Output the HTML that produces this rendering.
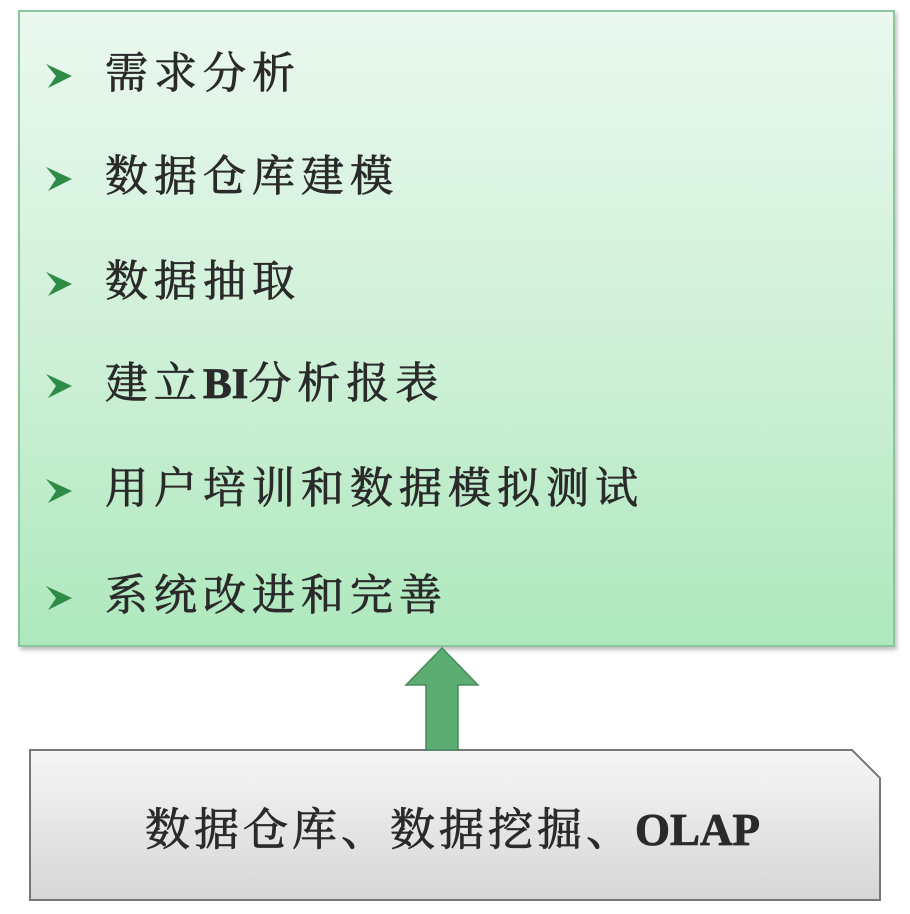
<!DOCTYPE html>
<html><head><meta charset="utf-8"><style>
html,body{margin:0;padding:0;background:#fff;width:910px;height:914px;overflow:hidden;position:relative}
.box{position:absolute;left:18px;top:10px;width:877px;height:637px;border:2px solid #8cc49c;box-sizing:border-box;
background:linear-gradient(#eaf8ef,#cdf0d6 55%,#aee8bd);box-shadow:2px 3px 4px rgba(0,0,0,.25)}
.item{position:absolute;left:0;font-family:"Liberation Serif","Noto Serif CJK SC",serif;font-size:43px;color:#2a2a2a;letter-spacing:6px;line-height:50px;white-space:nowrap;-webkit-text-stroke:0.8px #2a2a2a}
.item .t{position:absolute;left:105px;top:0}
.item svg{position:absolute;left:44px;top:12px}
b{font-weight:bold;letter-spacing:0}
.bt{position:absolute;left:145px;top:802px;font-family:"Liberation Serif","Noto Serif CJK SC",serif;font-size:45px;color:#2a2a2a;letter-spacing:4px;line-height:56px;white-space:nowrap;-webkit-text-stroke:0.8px #2a2a2a}
</style></head><body>
<div class="box"></div>
<svg width="910" height="914" style="position:absolute;left:0;top:0">
<defs><linearGradient id="g" x1="0" y1="0" x2="0" y2="1"><stop offset="0" stop-color="#f6f6f6"/><stop offset="1" stop-color="#d6d6d6"/></linearGradient></defs>
<polygon points="30,750 852,750 880,778 880,900 30,900" fill="url(#g)" stroke="#777" stroke-width="2"/>
<polygon points="426,750 426,685 406,685 442,648 478,685 458,685 458,750" fill="#5cad72" stroke="#4a8a5c" stroke-width="1.5"/>
</svg>
<div class="item" style="top:50px"><svg width="30" height="28"><polygon points="2,2 28,14 4,26 12,14" fill="#2e8b45"/></svg><span class="t">需求分析</span></div>
<div class="item" style="top:153px"><svg width="30" height="28"><polygon points="2,2 28,14 4,26 12,14" fill="#2e8b45"/></svg><span class="t">数据仓库建模</span></div>
<div class="item" style="top:258px"><svg width="30" height="28"><polygon points="2,2 28,14 4,26 12,14" fill="#2e8b45"/></svg><span class="t">数据抽取</span></div>
<div class="item" style="top:360px"><svg width="30" height="28"><polygon points="2,2 28,14 4,26 12,14" fill="#2e8b45"/></svg><span class="t">建立<b>BI</b>分析报表</span></div>
<div class="item" style="top:465px"><svg width="30" height="28"><polygon points="2,2 28,14 4,26 12,14" fill="#2e8b45"/></svg><span class="t">用户培训和数据模拟测试</span></div>
<div class="item" style="top:572px"><svg width="30" height="28"><polygon points="2,2 28,14 4,26 12,14" fill="#2e8b45"/></svg><span class="t">系统改进和完善</span></div>
<div class="bt">数据仓库、数据挖掘、<b>OLAP</b></div>
</body></html>
